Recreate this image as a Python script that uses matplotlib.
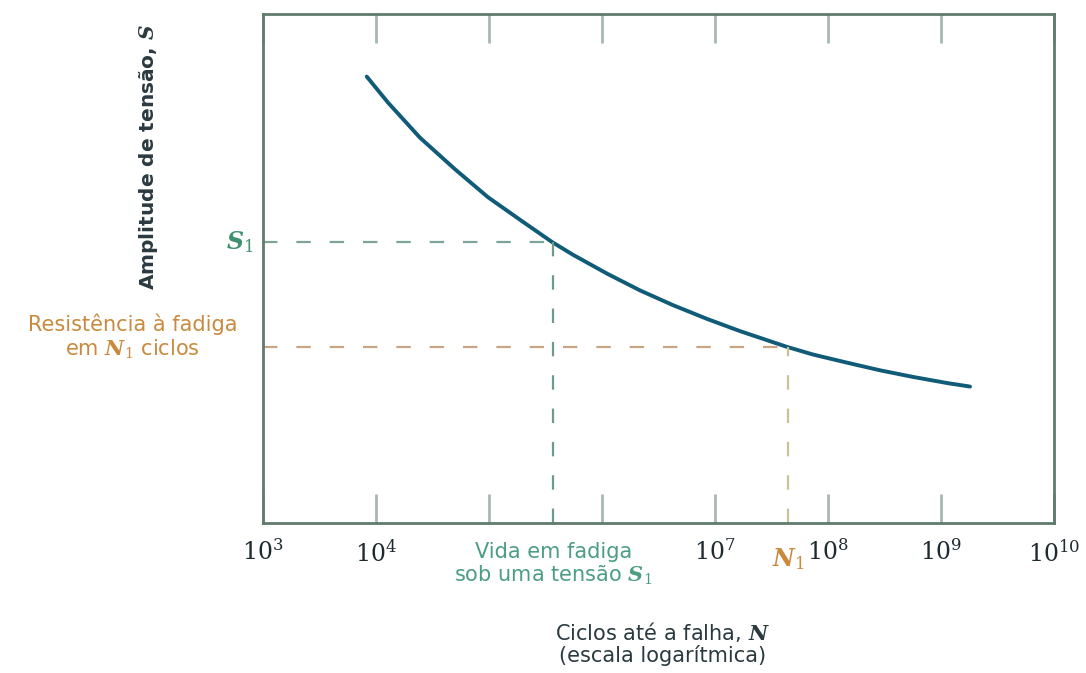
import numpy as np
import matplotlib
matplotlib.use("Agg")
import matplotlib.pyplot as plt

# curva S-N (log10 N, amplitude relativa)
log_n = [3.918, 4.106, 4.389, 4.699, 4.991, 5.292, 5.558, 5.743, 6.044, 6.336,
         6.628, 6.929, 7.221, 7.637, 7.867, 8.168, 8.460, 8.752, 9.053, 9.257]
amp = [0.877, 0.826, 0.757, 0.695, 0.640, 0.593, 0.552, 0.527, 0.490, 0.457,
       0.428, 0.401, 0.377, 0.346, 0.331, 0.315, 0.300, 0.287, 0.275, 0.268]

S1 = 0.552
N1_S1 = 10 ** 5.57
S_N1 = 0.345
N1 = 10 ** 7.65

tick_pos = [1e3, 1e4, 1e5, 1e6, 1e7, 1e8, 1e9, 1e10]
tick_lab = ["$10^{3}$", "$10^{4}$", "", "", "$10^{7}$", "$10^{8}$", "$10^{9}$", "$10^{10}$"]

plt.rcParams["mathtext.fontset"] = "dejavuserif"

fig = plt.figure(figsize=(10.86, 6.73), dpi=100)
ax = fig.add_axes([0.2422, 0.2229, 0.7283, 0.7563])

curve_col = "#0f5b78"
green = "#4c9e80"
orange = "#c98a3e"
frame = "#607a6c"
dark = "#2a3a40"

ax.plot(10 ** np.array(log_n), amp, color=curve_col, lw=2.8,
        solid_capstyle="round", solid_joinstyle="round")

# linhas tracejadas
ax.plot([1e3, N1_S1], [S1, S1], color="#7da595", lw=1.6, dashes=(6.5, 8.5))
ax.plot([N1_S1, N1_S1], [0, S1], color="#6f9a88", lw=1.6, dashes=(6.5, 8.5))
ax.plot([1e3, N1], [S_N1, S_N1], color="#c9a585", lw=1.6, dashes=(6.5, 8.5))
ax.plot([N1, N1], [0, S_N1], color="#c8c394", lw=1.6, dashes=(6.5, 8.5))

ax.set_xscale("log")
ax.set_xlim(1e3, 1e10)
ax.set_ylim(0, 1)
ax.set_xticks(tick_pos)
ax.set_xticklabels(tick_lab, fontsize=17, color="#1e2a30")
ax.minorticks_off()
ax.set_yticks([])
ax.tick_params(axis="x", direction="in", length=21, width=2, color="#a7b9b0",
               top=True, pad=12)
for s in ax.spines.values():
    s.set_color(frame)
    s.set_linewidth(2)

ax.text(-0.012, S1, "$\\mathbfit{S}_1$", transform=ax.get_yaxis_transform(),
        ha="right", va="center", fontsize=17, color="#3f9070")
ax.text(-0.165, S_N1 + 0.02, "Resistência à fadiga\nem $\\mathbfit{N}_1$ ciclos",
        transform=ax.get_yaxis_transform(), ha="center", va="center",
        fontsize=15, color=orange, family="DejaVu Sans", linespacing=1.15)
ax.text(N1_S1, -0.038, "Vida em fadiga\nsob uma tensão $\\mathbfit{S}_1$",
        transform=ax.get_xaxis_transform(), ha="center", va="top",
        fontsize=15, color=green, family="DejaVu Sans", linespacing=1.1)
ax.text(N1, -0.045, "$\\mathbfit{N}_1$", transform=ax.get_xaxis_transform(),
        ha="center", va="top", fontsize=17, color=orange)

ax.set_xlabel("Ciclos até a falha, $\\mathbfit{N}$\n(escala logarítmica)",
              fontsize=15, color=dark, family="DejaVu Sans", linespacing=1.05)
ax.xaxis.set_label_coords(0.505, -0.19)
ax.set_ylabel("Amplitude de tensão, $\\mathbfit{S}$", fontsize=14.5, color=dark,
              family="DejaVu Sans", fontweight="bold")
ax.yaxis.set_label_coords(-0.13, 0.72)

fig.savefig("out.png", dpi=100)
